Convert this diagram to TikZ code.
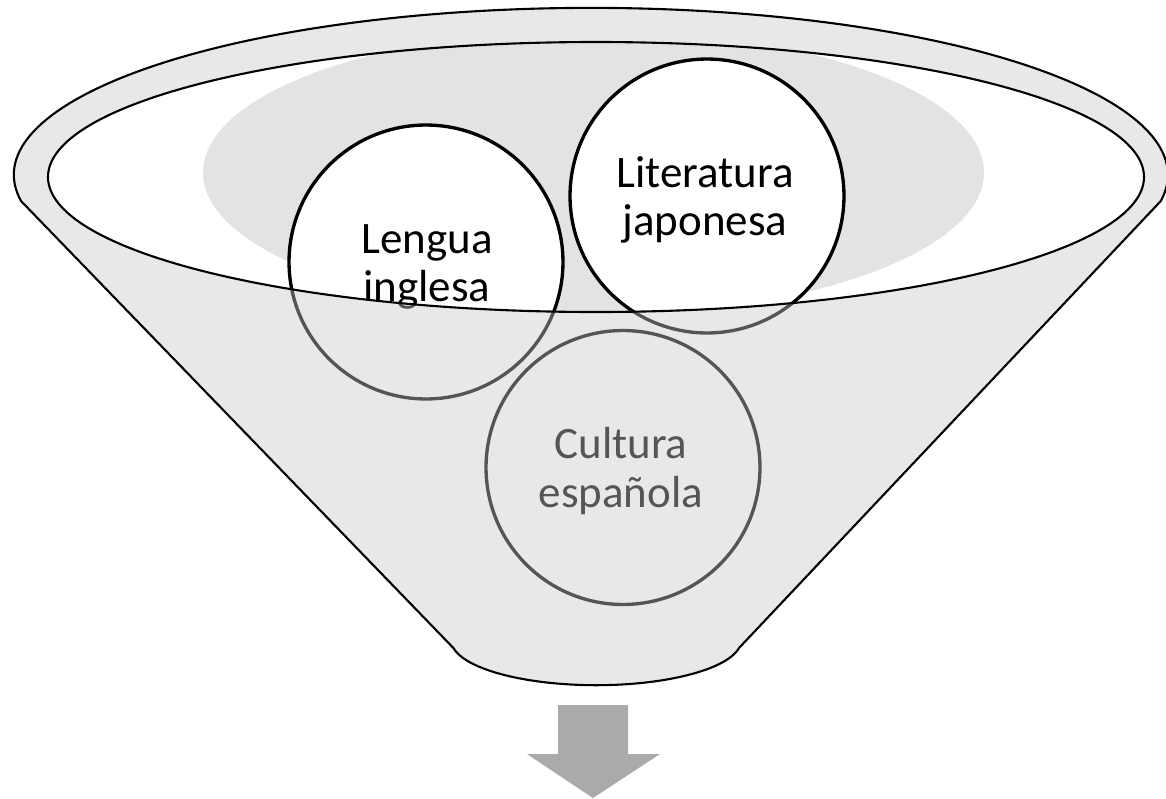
\documentclass[tikz,border=0pt]{standalone}
\usepackage{fontspec}
\setmainfont{Carlito}
\begin{document}
\begin{tikzpicture}[x=0.02cm,y=-0.02cm]
\definecolor{shadegray}{RGB}{227,227,227}
\definecolor{veilgray}{RGB}{201,201,201}
\definecolor{arrowgray}{RGB}{170,170,170}
\tikzset{
  rimline/.style={draw=black, line width=1.2pt},
  bubble/.style={circle, draw=black, fill=white, line width=1.9pt, minimum size=5.48cm, inner sep=0pt},
  bubbletext/.style={align=center, font=\fontsize{25.6}{27.6}\selectfont, inner sep=0pt, text=black},
}
\useasboundingbox (0,0) rectangle (1166,798);
% shading inside the rim
\begin{scope}
  \clip (596,177) ellipse [x radius=548, y radius=135];
  \fill[shadegray] (593.5,172.5) ellipse [x radius=390.5, y radius=142.5];
\end{scope}
% bubbles
\node[bubble] (lengua) at (426,262) {};
\node[bubble] (literatura) at (707,196) {};
\node[bubble] (cultura) at (623,467.5) {};
\node[bubbletext] (tlengua) at (427,267) {Lengua\\inglesa};
\node[bubbletext] (tliteratura) at (705,200) {Literatura\\japonesa};
\node[bubbletext] (tcultura) at (621,471) {Cultura\\española};
% translucent funnel front
\fill[veilgray, fill opacity=0.4235, even odd rule]
  (21,201) arc[start angle=171, end angle=369, x radius=577, y radius=167]
  -- (739,648) arc[start angle=10, end angle=170, x radius=145, y radius=45] -- cycle
  (596,177) ellipse [x radius=548, y radius=135];
% outlines
\draw[rimline, line join=round]
  (21,201) arc[start angle=171, end angle=369, x radius=577, y radius=167]
  -- (739,648) arc[start angle=10, end angle=170, x radius=145, y radius=45] -- cycle;
\draw[rimline] (596,177) ellipse [x radius=548, y radius=135];
% arrow
\fill[arrowgray] (558,705) -- (628,705) -- (628,754) -- (660,754) -- (593,798)
  -- (527,754) -- (558,754) -- cycle;
\end{tikzpicture}
\end{document}
